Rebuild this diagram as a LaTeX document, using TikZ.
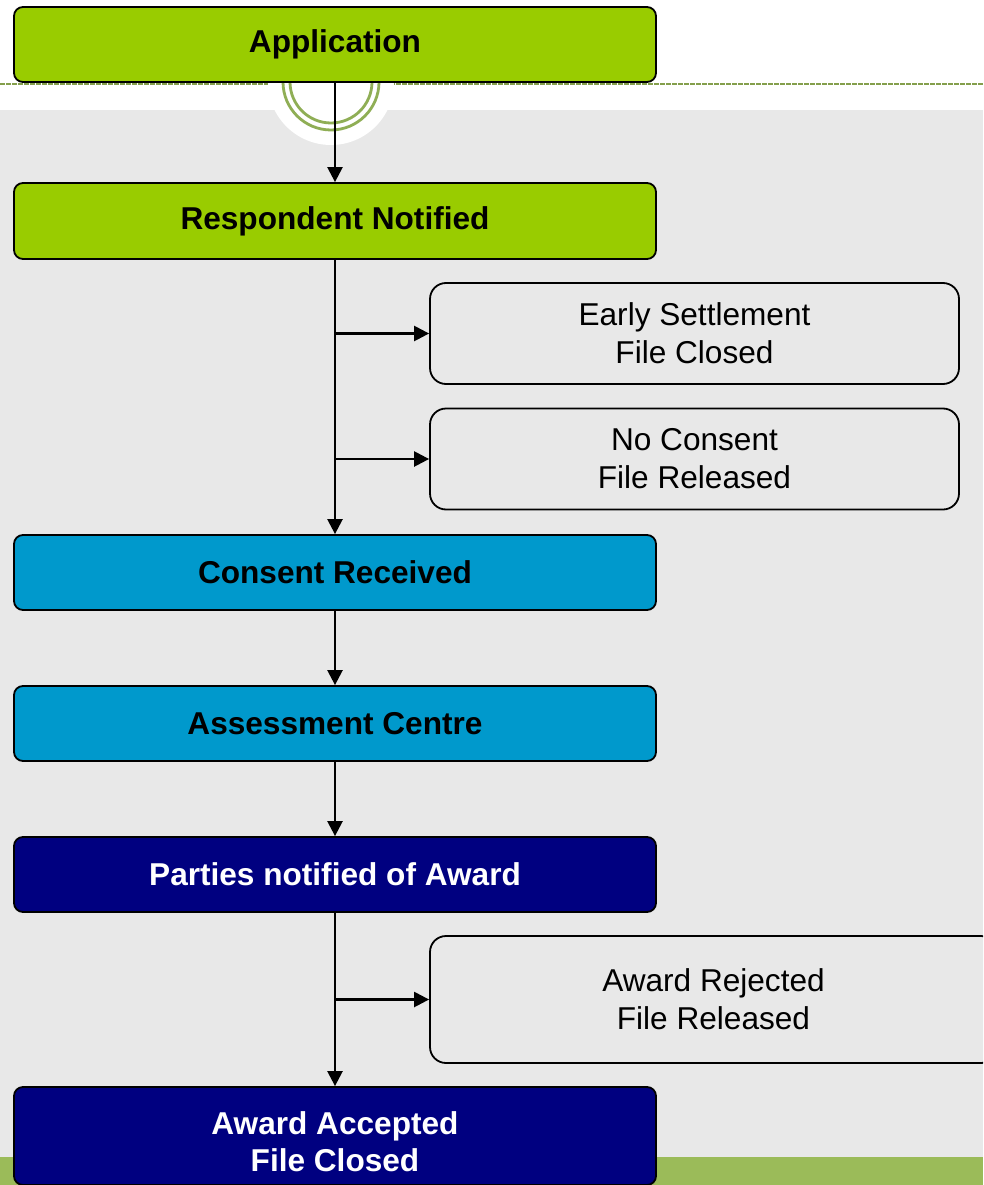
\documentclass[tikz,border=0pt]{standalone}
\usepackage{fontspec}
\setmainfont{Liberation Sans}
\usetikzlibrary{arrows.meta}
\definecolor{bggray}{HTML}{E8E8E8}
\definecolor{barGreen}{HTML}{9BBB59}
\definecolor{ringGreen}{HTML}{8FAE55}
\definecolor{boxGreen}{HTML}{99CC00}
\definecolor{boxBlue}{HTML}{0099CC}
\definecolor{boxNavy}{HTML}{000080}
\tikzset{
  mainbox/.style={draw=black, line width=1.8pt, rounded corners=9pt,
    minimum width=642pt, minimum height=75pt, inner sep=0pt,
    font=\fontsize{31.6}{38}\selectfont\bfseries, align=center},
  sidebox/.style={draw=black, line width=1.8pt, rounded corners=16pt, fill=bggray,
    inner sep=0pt, font=\fontsize{31.6}{38}\selectfont, align=center},
  conn/.style={line width=2.4pt, -{Triangle[length=15pt,width=15pt]}},
}
\begin{document}
\begin{tikzpicture}[x=1pt,y=-1pt]
\useasboundingbox (0,0) rectangle (983,1185);
\clip (0,0) rectangle (983,1185);
% backgrounds
\fill[white] (0,0) rectangle (983,1185);
\fill[bggray] (0,110) rectangle (983,1185);
\fill[barGreen] (0,1157) rectangle (983,1185);
\draw[barGreen!85!black, line width=2.4pt, dash pattern=on 4.5pt off 1.5pt] (0,84) -- (983,84);
\fill[white] (331,82) circle (63);
\draw[ringGreen, line width=2.8pt] (331,82) circle (48);
\draw[ringGreen, line width=2.8pt] (331,82) circle (41);
% main boxes
\node[mainbox, fill=boxGreen] (app) at (335,44.5) {Application};
\node[mainbox, fill=boxGreen, minimum height=76pt] (resp) at (335,221) {Respondent Notified};
\node[mainbox, fill=boxBlue] (cons) at (335,572.5) {Consent Received};
\node[mainbox, fill=boxBlue] (assess) at (335,723.5) {Assessment Centre};
\node[mainbox, fill=boxNavy, text=white] (parties) at (335,874.5) {Parties notified of Award};
\node[mainbox, fill=boxNavy, minimum height=98pt] (acc) at (335,1136) {};
\node[text=white, font=\fontsize{31.6}{37}\selectfont\bfseries, align=center, inner sep=0pt] (acctext) at (335,1142) {Award Accepted\\File Closed};
% side boxes
\node[sidebox, minimum width=529pt, minimum height=101pt] (early) at (694.5,333.5) {Early Settlement\\File Closed};
\node[sidebox, minimum width=529pt, minimum height=101pt] (nocons) at (694.5,459) {No Consent\\File Released};
\node[sidebox, minimum width=567pt, minimum height=127pt] (rej) at (713.5,999.5) {Award Rejected\\File Released};
% connectors
\draw[conn] (app.south) -- (resp.north);
\draw[conn] (resp.south) -- (cons.north);
\draw[conn] (resp.south |- early.west) -- (early.west);
\draw[conn] (resp.south |- nocons.west) -- (nocons.west);
\draw[conn] (cons.south) -- (assess.north);
\draw[conn] (assess.south) -- (parties.north);
\draw[conn] (parties.south) -- (acc.north);
\draw[conn] (parties.south |- rej.west) -- (rej.west);
\end{tikzpicture}
\end{document}
